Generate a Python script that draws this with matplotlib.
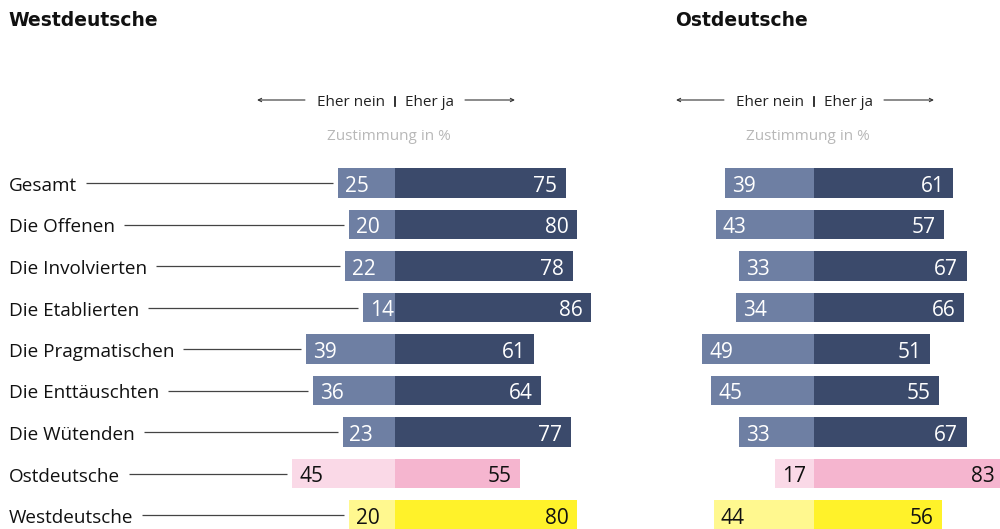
import matplotlib
matplotlib.use("Agg")
import matplotlib.pyplot as plt

plt.rcParams["font.family"] = ["Open Sans", "DejaVu Sans"]

categories = ["Gesamt", "Die Offenen", "Die Involvierten", "Die Etablierten",
              "Die Pragmatischen", "Die Enttäuschten", "Die Wütenden",
              "Ostdeutsche", "Westdeutsche"]

west_nein = [25, 20, 22, 14, 39, 36, 23, 45, 20]
west_ja = [75, 80, 78, 86, 61, 64, 77, 55, 80]
ost_nein = [39, 43, 33, 34, 49, 45, 33, 17, 44]
ost_ja = [61, 57, 67, 66, 51, 55, 67, 83, 56]

NAVY = "#3b4a6b"
NAVY_LIGHT = "#6e7fa3"
PINK = "#f5b5cf"
PINK_LIGHT = "#fad9e7"
YELLOW = "#fff22a"
YELLOW_LIGHT = "#fff88f"

ja_colors = [NAVY] * 7 + [PINK, YELLOW]
nein_colors = [NAVY_LIGHT] * 7 + [PINK_LIGHT, YELLOW_LIGHT]
txt_colors = ["white"] * 7 + ["#111111", "#111111"]

W, H = 1000, 529
PX_PER_PCT = 2.28
ROW0, ROW_STEP = 183, 41.5

fig = plt.figure(figsize=(10, 5.29), dpi=100)


def make_axes(x0, x1, center):
    ax = fig.add_axes([x0 / W, 0, (x1 - x0) / W, 1])
    ax.set_xlim(-(center - x0) / PX_PER_PCT, (x1 - center) / PX_PER_PCT)
    ax.set_ylim((H - ROW0) / ROW_STEP, -ROW0 / ROW_STEP)
    ax.axis("off")
    return ax


def draw_panel(ax, nein, ja, title, title_x):
    ys = range(len(categories))
    ax.barh(ys, [-v for v in nein], height=0.7, color=nein_colors, lw=0)
    ax.barh(ys, ja, height=0.7, color=ja_colors, lw=0)
    for i, (n, j) in enumerate(zip(nein, ja)):
        ax.text(-n + 3.0, i + 0.21, str(n), ha="left", va="baseline",
                fontsize=15, color=txt_colors[i])
        ax.text(j - 3.8, i + 0.21, str(j), ha="right", va="baseline",
                fontsize=15, color=txt_colors[i])

    # header: direction hint and unit
    ax.plot([0, 0], [-2.08, -1.855], color="#222222", lw=1.3)
    ax.text(-4.2, -1.845, "Eher nein", ha="right", va="baseline",
            fontsize=11, color="#222222")
    ax.text(4.4, -1.845, "Eher ja", ha="left", va="baseline",
            fontsize=11, color="#222222")
    ax.annotate("", xy=(-60.5, -2.0), xytext=(-39.5, -2.0),
                arrowprops=dict(arrowstyle="->", lw=0.8, color="#333333",
                                shrinkA=0, shrinkB=0, mutation_scale=6))
    ax.annotate("", xy=(52.6, -2.0), xytext=(30.7, -2.0),
                arrowprops=dict(arrowstyle="->", lw=0.8, color="#333333",
                                shrinkA=0, shrinkB=0, mutation_scale=6))
    ax.text(-2.7, -1.036, "Zustimmung in %", ha="center", va="baseline",
            fontsize=11, color="#b8b8b8")
    fig.text(title_x / W, 1 - 26 / H, title, ha="left", va="baseline",
             fontsize=13.5, fontweight="bold", color="#111111",
             family=["DejaVu Sans"])


ax_w = make_axes(0, 650, 395)
ax_o = make_axes(655, 1000, 814)
draw_panel(ax_w, west_nein, west_ja, "Westdeutsche", 8)
draw_panel(ax_o, ost_nein, ost_ja, "Ostdeutsche", 675)

# category labels with leader lines into the left panel
renderer = fig.canvas.get_renderer()
x_to_data = ax_w.transData.inverted()
for i, (name, n) in enumerate(zip(categories, west_nein)):
    y_px = H - (ROW0 + ROW_STEP * i)
    t = fig.text(9 / W, (y_px - 8) / H, name, ha="left", va="baseline",
                 fontsize=13.6, color="#111111")
    ext = t.get_window_extent(renderer)
    x_start = x_to_data.transform((ext.x1 + 9, 0))[0]
    ax_w.plot([x_start, -n - 2.2], [i, i], color="#444444", lw=0.9,
              solid_capstyle="butt")

fig.savefig("out.png", dpi=100, facecolor="white")
